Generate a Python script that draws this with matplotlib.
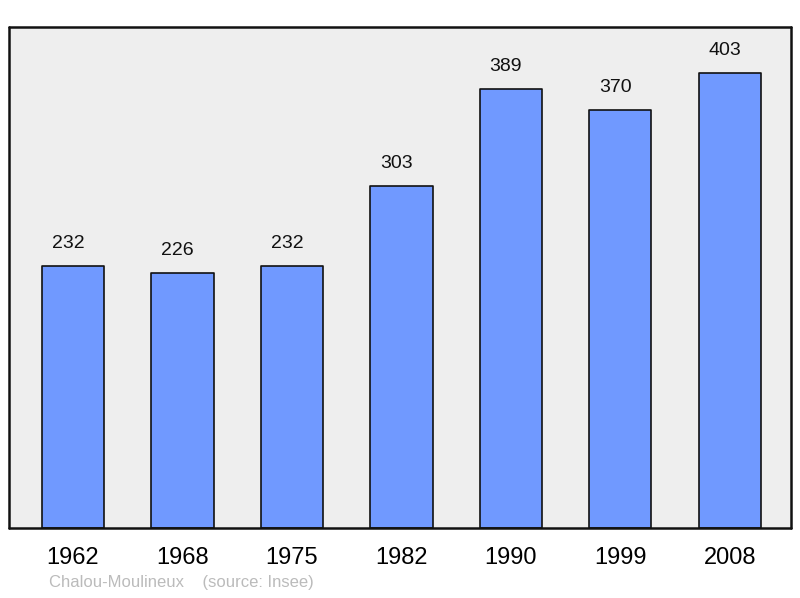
import numpy as np
import matplotlib.pyplot as plt

years = ['1962', '1968', '1975', '1982', '1990', '1999', '2008']
population = [232, 226, 232, 303, 389, 370, 403]
place = 'Chalou-Moulineux'

plt.rcParams['font.family'] = ['Liberation Sans', 'DejaVu Sans']

fig = plt.figure(figsize=(8, 5.98), dpi=100)
ax = fig.add_axes([9 / 800, 70 / 598, 782 / 800, 501 / 598])
ax.set_facecolor('#eeeeee')

x = np.arange(len(years))
bars = ax.bar(x, population, width=0.57, color='#7099ff', edgecolor='#111111',
              linewidth=1.2, joinstyle='round', zorder=2)

# value labels sit a little left of bar centre, as in the original
for xi, v in zip(x, population):
    ax.annotate(str(v), (xi, v), xytext=(-3.5, 16), textcoords='offset points',
                ha='center', va='center', fontsize=14, color='#111111')

ax.set_xlim(-0.585, 6.56)
ax.set_ylim(0, 443.7)
ax.set_xticks(x)
ax.set_xticklabels(years, fontsize=17)
ax.tick_params(axis='x', length=0, pad=13.5)
ax.set_yticks([])
for s in ax.spines.values():
    s.set_linewidth(1.8)
    s.set_color('#111111')
    s.set_capstyle('round')

fig.text(49 / 800, 1 - 583 / 598, place + '    (source: Insee)', fontsize=12,
         color='#bbbbbb', ha='left', va='center')

fig.savefig('out.png', dpi=100)
